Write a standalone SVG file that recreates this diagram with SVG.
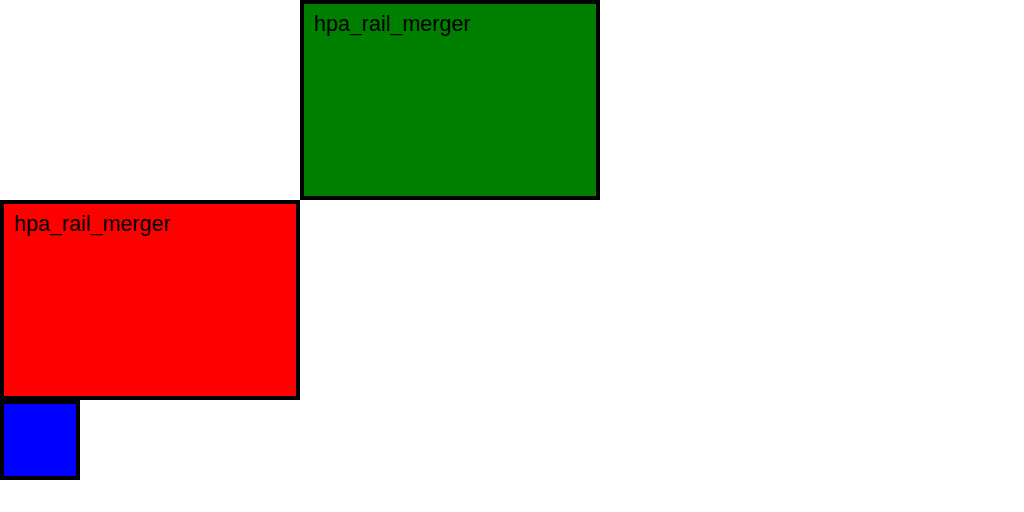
<svg xmlns="http://www.w3.org/2000/svg" width="1024" height="512" viewBox="0 0 1024 512">
<style>
.box{stroke:#000;stroke-width:4}
.lbl{font-family:"Liberation Sans",Arial,sans-serif;font-size:21.5px;fill:#000}
</style>
<rect width="1024" height="512" fill="#fff"/>
<g id="node-root">
<rect x="2" y="2" width="296" height="196" fill="#fff" stroke="#fff" stroke-width="4"/>
<text class="lbl" x="14" y="30" style="fill:#fff">hpa_rail_merger</text>
</g>
<g id="node-green">
<rect class="box" x="302" y="2" width="296" height="196" fill="#008000"/>
<text class="lbl" x="314" y="31">hpa_rail_merger</text>
</g>
<g id="node-red">
<rect class="box" x="2" y="202" width="296" height="196" fill="#f00"/>
<text class="lbl" x="14" y="231">hpa_rail_merger</text>
</g>
<g id="node-blue">
<rect class="box" x="2" y="402" width="76" height="76" fill="#00f"/>
</g>
<g id="connectors"></g>
</svg>
